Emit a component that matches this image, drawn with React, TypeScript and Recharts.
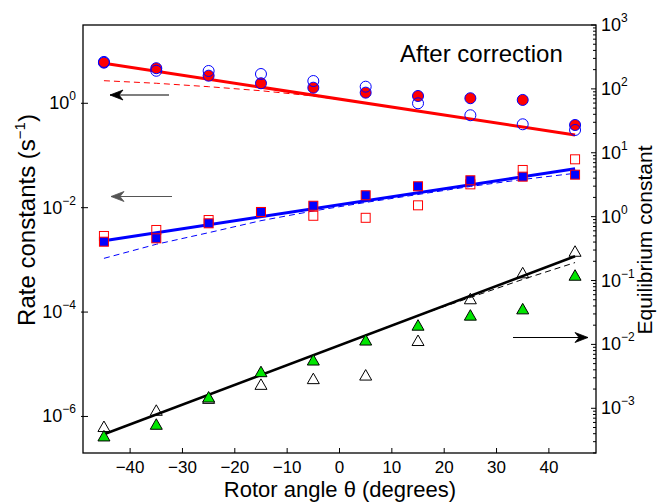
import { ComposedChart, Line, Scatter, XAxis, YAxis } from "recharts"

// rotor angles (degrees)
const angles = [-45, -35, -25, -15, -5, 5, 15, 25, 35, 45]
const fitAngles = [-45, 45]

// forward rate constant (s^-1), left axis
const kFwdFilled = [6.0, 4.7, 3.38, 2.42, 1.99, 1.6, 1.38, 1.25, 1.16, 0.384]
const kFwdOpen = [6.2, 4.2, 4.16, 3.64, 2.67, 2.08, 1.0, 0.59, 0.396, 0.308]
const kFwdDashed = [2.71, 2.42, 2.08, 1.74, 1.38, 1.01, 0.71, 0.5, 0.35, 0.247]
const kFwdFit = [5.84, 0.247]

// reverse rate constant (s^-1), left axis
const kRevFilled = [2.23e-3, 2.59e-3, 5.02e-3, 8.28e-3, 1.09e-2, 1.73e-2, 2.57e-2, 3.35e-2, 3.93e-2, 4.29e-2]
const kRevOpen = [2.87e-3, 3.74e-3, 5.8e-3, 8.2e-3, 7.0e-3, 6.4e-3, 1.11e-2, 2.8e-2, 5.28e-2, 8.45e-2]
const kRevDashed = [1.07e-3, 1.99e-3, 3.32e-3, 5.64e-3, 8.65e-3, 1.26e-2, 1.79e-2, 2.55e-2, 3.47e-2, 4.56e-2]
const kRevFit = [2.33e-3, 5.58e-2]

// equilibrium constant, right axis
const keqFilled = [3.69e-4, 5.62e-4, 1.5e-3, 3.74e-3, 5.69e-3, 1.17e-2, 2.0e-2, 2.87e-2, 3.6e-2, 0.121]
const keqOpen = [5.18e-4, 9.3e-4, 1.43e-3, 2.37e-3, 2.91e-3, 3.31e-3, 1.15e-2, 5.18e-2, 0.132, 0.287]
const keqDashed = [3.92e-4, 8.0e-4, 1.63e-3, 3.33e-3, 6.79e-3, 1.39e-2, 2.83e-2, 5.42e-2, 0.104, 0.191]
const keqFit = [3.92e-4, 0.24]

const xTicks = [-40, -30, -20, -10, 0, 10, 20, 30, 40]
const leftTicks = [1e-6, 1e-4, 1e-2, 1]
const rightMajor = [-3, -2, -1, 0, 1, 2, 3]
const rightTicks: number[] = []
rightMajor.forEach((e) => {
  rightTicks.push(Math.pow(10, e))
  if (e < 3) for (let m = 2; m <= 9; m++) rightTicks.push(m * Math.pow(10, e))
})
for (let m = 2; m <= 9; m++) rightTicks.push(m * 1e-4)

const toRows = (xs: number[], ys: number[]) => xs.map((x, i) => ({ x, y: ys[i] }))

const FONT = "Arial, 'Liberation Sans', Helvetica, sans-serif"
const W = 658
const H = 502
const PL = 83
const PR = 596
const PT = 25
const PB = 453

const expLabel = (v: number) => {
  const e = Math.round(Math.log10(v))
  return e < 0 ? `\u2212${-e}` : `${e}`
}

function LeftTick({ x, y, payload }: any) {
  return (
    <g>
      <line x1={x - 2} x2={x + 5} y1={y} y2={y} stroke="#000" />
      <text x={x - 7} y={y + 6} textAnchor="end" fontSize={18} fontFamily={FONT} fill="#000">
        <tspan>10</tspan>
        <tspan dy={-9} fontSize={12}>{expLabel(payload.value)}</tspan>
      </text>
    </g>
  )
}

function RightTick({ x, y, payload }: any) {
  const lg = Math.log10(payload.value)
  const major = Math.abs(lg - Math.round(lg)) < 1e-6
  if (!major) return <line x1={x - 3} x2={x} y1={y} y2={y} stroke="#000" />
  return (
    <g>
      <line x1={x - 5} x2={x} y1={y} y2={y} stroke="#000" />
      <text x={x + 5} y={y + 6} textAnchor="start" fontSize={18} fontFamily={FONT} fill="#000">
        <tspan>10</tspan>
        <tspan dy={-9} fontSize={12}>{expLabel(payload.value)}</tspan>
      </text>
    </g>
  )
}

function BottomTick({ x, y, payload }: any) {
  return (
    <g>
      <line x1={x} x2={x} y1={y - 5} y2={y} stroke="#000" />
      <text x={x} y={y + 20} textAnchor="middle" fontSize={17} fontFamily={FONT} fill="#000">
        {String(payload.value).replace("-", "\u2212")}
      </text>
    </g>
  )
}

const FilledCircle = ({ cx, cy }: any) => <circle cx={cx} cy={cy} r={5.5} fill="#ff0000" stroke="#0000ff" strokeWidth={1} />
const OpenCircle = ({ cx, cy }: any) => <circle cx={cx} cy={cy} r={5.5} fill="none" stroke="#0000ff" strokeWidth={1} />
const FilledSquare = ({ cx, cy }: any) => <rect x={cx - 4.5} y={cy - 4.5} width={9} height={9} fill="#0000ff" stroke="#ff0000" strokeWidth={1} />
const OpenSquare = ({ cx, cy }: any) => <rect x={cx - 4.5} y={cy - 4.5} width={9} height={9} fill="none" stroke="#ff0000" strokeWidth={1} />
const triPts = (cx: number, cy: number) => `${cx},${cy - 5.5} ${cx - 6},${cy + 5} ${cx + 6},${cy + 5}`
const FilledTri = ({ cx, cy }: any) => <polygon points={triPts(cx, cy)} fill="#00e600" stroke="#000" strokeWidth={1} />
const OpenTri = ({ cx, cy }: any) => <polygon points={triPts(cx, cy)} fill="none" stroke="#000" strokeWidth={1} />

function Arrow({ x1, x2, y, color, pointLeft }: { x1: number; x2: number; y: number; color: string; pointLeft: boolean }) {
  const tip = pointLeft ? x1 : x2
  const d = pointLeft ? 1 : -1
  return (
    <g>
      <line x1={x1} x2={x2} y1={y} y2={y} stroke={color} strokeWidth={1.2} />
      <polygon
        points={`${tip},${y} ${tip + d * 13},${y - 5} ${tip + d * 9},${y} ${tip + d * 13},${y + 5}`}
        fill={color}
        stroke={color}
        strokeWidth={0.8}
      />
    </g>
  )
}

export default function App() {
  return (
    <div style={{ position: "absolute", left: 0, top: 0, width: W, height: H, background: "#fff" }}>
      <ComposedChart width={W} height={H} margin={{ top: PT, right: 0, bottom: 0, left: 0 }}>
        <XAxis
          type="number"
          dataKey="x"
          domain={[-49, 49]}
          ticks={xTicks}
          allowDataOverflow
          height={H - PB}
          axisLine={false}
          tickLine={false}
          tickSize={0}
          tickMargin={0}
          interval={0}
          tick={<BottomTick />}
        />
        <YAxis
          yAxisId="left"
          type="number"
          dataKey="y"
          scale="log"
          domain={[Math.pow(10, -6.7), Math.pow(10, 1.5)]}
          ticks={leftTicks}
          allowDataOverflow
          width={PL}
          axisLine={false}
          tickLine={false}
          tickSize={0}
          tickMargin={0}
          interval={0}
          tick={<LeftTick />}
        />
        <YAxis
          yAxisId="right"
          orientation="right"
          type="number"
          dataKey="y"
          scale="log"
          domain={[Math.pow(10, -3.7), 1000]}
          ticks={rightTicks}
          allowDataOverflow
          width={W - PR}
          axisLine={false}
          tickLine={false}
          tickSize={0}
          tickMargin={0}
          interval={0}
          tick={<RightTick />}
        />

        <Line yAxisId="left" data={toRows(angles, kFwdDashed)} dataKey="y" stroke="#ff0000" strokeWidth={1} strokeDasharray="6 4" dot={false} isAnimationActive={false} />
        <Line yAxisId="left" data={toRows(fitAngles, kFwdFit)} dataKey="y" stroke="#ff0000" strokeWidth={3} dot={false} isAnimationActive={false} />
        <Line yAxisId="left" data={toRows(angles, kRevDashed)} dataKey="y" stroke="#0000ff" strokeWidth={1} strokeDasharray="6 4" dot={false} isAnimationActive={false} />
        <Line yAxisId="left" data={toRows(fitAngles, kRevFit)} dataKey="y" stroke="#0000ff" strokeWidth={3} dot={false} isAnimationActive={false} />
        <Line yAxisId="right" data={toRows(angles, keqDashed)} dataKey="y" stroke="#000" strokeWidth={1} strokeDasharray="6 4" dot={false} isAnimationActive={false} />
        <Line yAxisId="right" data={toRows(fitAngles, keqFit)} dataKey="y" stroke="#000" strokeWidth={2.5} dot={false} isAnimationActive={false} />

        <Scatter yAxisId="left" data={toRows(angles, kFwdFilled)} shape={<FilledCircle />} isAnimationActive={false} />
        <Scatter yAxisId="left" data={toRows(angles, kFwdOpen)} shape={<OpenCircle />} isAnimationActive={false} />
        <Scatter yAxisId="left" data={toRows(angles, kRevOpen)} shape={<OpenSquare />} isAnimationActive={false} />
        <Scatter yAxisId="left" data={toRows(angles, kRevFilled)} shape={<FilledSquare />} isAnimationActive={false} />
        <Scatter yAxisId="right" data={toRows(angles, keqOpen)} shape={<OpenTri />} isAnimationActive={false} />
        <Scatter yAxisId="right" data={toRows(angles, keqFilled)} shape={<FilledTri />} isAnimationActive={false} />
      </ComposedChart>

      <svg width={W} height={H} style={{ position: "absolute", left: 0, top: 0, pointerEvents: "none" }}>
        <rect x={PL} y={PT} width={PR - PL} height={PB - PT} fill="none" stroke="#000" strokeWidth={1.3} />
        <Arrow x1={110} x2={169} y={95} color="#000" pointLeft />
        <Arrow x1={111} x2={172} y={196.5} color="#555" pointLeft />
        <Arrow x1={513} x2={588} y={337.5} color="#000" pointLeft={false} />
        <text x={400} y={62} fontSize={24} fontFamily={FONT} fill="#000">After correction</text>
        <text x={340} y={497} textAnchor="middle" fontSize={22} fontFamily={FONT} fill="#000">
          Rotor angle θ (degrees)
        </text>
        <text x={35} y={220} textAnchor="middle" fontSize={24} fontFamily={FONT} fill="#000" transform="rotate(-90 35 220)">
          Rate constants (s<tspan dy={-10} fontSize={15}>{"\u22121"}</tspan><tspan dy={10}>)</tspan>
        </text>
        <text x={652} y={240} textAnchor="middle" fontSize={21} fontFamily={FONT} fill="#000" transform="rotate(-90 652 240)">
          Equilibrium constant
        </text>
      </svg>
    </div>
  )
}
